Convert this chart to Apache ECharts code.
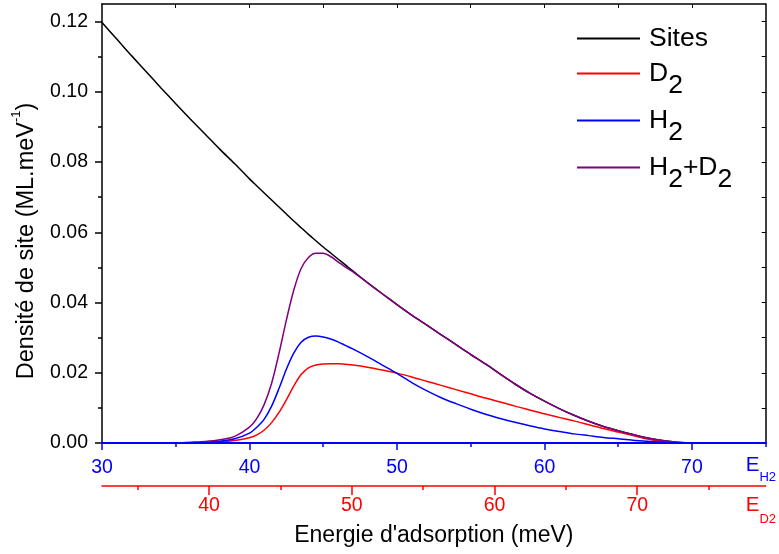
<!DOCTYPE html>
<html><head><meta charset="utf-8">
<script src="https://cdn.jsdelivr.net/npm/echarts@6/dist/echarts.min.js"></script>
<style>html,body{margin:0;padding:0;background:#fff}#c{width:779px;height:554px}</style>
</head><body><div id="c"></div>
<script>
// Energy (E_H2, meV)
const energy = [30,31,32,33,34,35,36,37,38,39,40,40.5,41,41.5,42,42.5,43,43.5,44,44.5,45,45.5,46,46.5,47,48,49,50,51,52,53,54,55,56,57,58,59,60,61,62,63,64,65,66,67,68,69,70,71,72,73,74,75];
const sites = [0.1197,0.1150,0.1103,0.1057,0.1011,0.0966,0.0922,0.0879,0.0836,0.0795,0.0752,
 0.0732,0.0712,0.0692,0.0672,0.0652,0.0632,0.0613,0.0594,0.0576,0.0558,0.0541,0.0524,0.0507,0.0490,
 0.0457,0.0425,0.0394,0.0364,0.0336,0.0308,0.0280,0.0252,0.0225,0.0196,0.0168,0.0142,0.0119,0.0098,0.0079,0.0062,0.0047,0.0035,0.0024,0.0014,0.0007,0.0002,0,0,0,0,0,0];
const d2 = [0,0,0,0,0,0,0,0.0001,0.0003,0.0007,0.0015,
 0.0023,0.0037,0.0058,0.0087,0.0123,0.0162,0.0195,0.0214,0.0222,0.0225,0.0226,0.0226,0.0224,0.0222,
 0.0216,0.0208,0.0199,0.0188,0.0176,0.0164,0.0152,0.0140,0.0128,0.0117,0.0105,0.0094,0.0083,0.0073,0.0063,0.0052,0.0041,0.0031,0.0021,0.0011,0.0004,0.0001,0,0,0,0,0,0];
const h2 = [0,0,0,0,0,0,0.0001,0.0002,0.0005,0.0012,0.0028,
 0.0045,0.0068,0.0105,0.0155,0.0210,0.0256,0.0287,0.0301,0.0305,0.0302,0.0296,0.0288,0.0278,0.0268,
 0.0246,0.0222,0.0198,0.0172,0.0149,0.0129,0.0112,0.0096,0.0082,0.0070,0.0059,0.0049,0.0040,0.0033,0.0026,0.0021,0.0016,0.0012,0.0008,0.0005,0.0002,0.0001,0,0,0,0,0,0];
const h2d2 = [0,0,0,0,0,0,0.0002,0.0004,0.0009,0.0019,0.0045,
 0.0070,0.0110,0.0170,0.0255,0.0350,0.0435,0.0497,0.0528,0.0540,0.0540,0.0531,0.0516,0.0501,0.0488,
 0.0456,0.0425,0.0394,0.0364,0.0336,0.0308,0.0280,0.0252,0.0225,0.0196,0.0168,0.0142,0.0119,0.0098,0.0079,0.0062,0.0047,0.0035,0.0024,0.0014,0.0007,0.0002,0,0,0,0,0,0];

const yMajor = [0,0.02,0.04,0.06,0.08,0.10,0.12];
const yMinor = [0.01,0.03,0.05,0.07,0.09,0.11];
const yRight = [0.01,0.02,0.03,0.04,0.05,0.06,0.07,0.08,0.09,0.10,0.11,0.12];
const hMajor = [30,40,50,60,70];
const hMinor = [35,45,55,65,75];
const topTicks = [35,40,45,50,55,60,65,70];
const dMajor = [40,50,60,70];
const dMinor = [35,45,55,65,75];

const FF = "'Liberation Sans', Arial, sans-serif";
const BLUE = '#0000ff', RED = '#ff0000', PURPLE = '#800080';

const chart = echarts.init(document.getElementById('c'), null, {renderer: 'canvas'});
const pairs = arr => energy.map((e, i) => [e, arr[i]]);
const legendNames = {'Sites': '{p|Sites}', 'D2': '{f|D}{s|2}', 'H2': '{f|H}{s|2}', 'H2+D2': '{f|H}{s|2}{m|+D}{s|2}'};
const LF = 26.5;

function lineSeries(name, arr, color) {
  return {type: 'line', name, data: pairs(arr), xAxisIndex: 0, yAxisIndex: 0, showSymbol: false, smooth: 0.3,
    color, itemStyle: {color}, lineStyle: {color, width: 1.5}, z: 2, silent: true};
}

chart.setOption({
  animation: false,
  backgroundColor: '#fff',
  textStyle: {fontFamily: FF},
  grid: {left: 102, right: 13, top: 4, bottom: 111, containLabel: false},
  legend: {
    orient: 'vertical', left: 577, top: 25, padding: 0, itemGap: -4, itemWidth: 63, itemHeight: 2,
    icon: 'rect', selectedMode: false,
    data: ['Sites', 'D2', 'H2', 'H2+D2'],
    formatter: n => legendNames[n],
    textStyle: {fontFamily: FF, color: '#000', fontSize: LF,
      rich: {
        p: {fontSize: LF, lineHeight: 27, padding: [0, 0, 0, 4], fontFamily: FF, color: '#000'},
        f: {fontSize: LF, lineHeight: 27, padding: [12, 0, 12, 4], fontFamily: FF, color: '#000'},
        m: {fontSize: LF, lineHeight: 27, padding: [12, 0, 12, 0], fontFamily: FF, color: '#000'},
        s: {fontSize: LF, lineHeight: 27, padding: [24, 0, 0, 0], fontFamily: FF, color: '#000'}
      }}
  },
  xAxis: [
    { // blue E_H2 axis
      type: 'value', gridIndex: 0, position: 'bottom', min: 30, max: 75, z: 5,
      axisLine: {show: true, onZero: false, lineStyle: {color: BLUE, width: 2}},
      axisTick: {show: true, inside: false, length: 7, customValues: hMajor, lineStyle: {color: BLUE, width: 1.5}},
      axisLabel: {show: true, customValues: hMajor, margin: 15, color: BLUE, fontSize: 19.5, fontFamily: FF},
      splitLine: {show: false},
      name: '{e|E}{s|H2}', nameLocation: 'end', nameGap: -20,
      nameTextStyle: {align: 'left', verticalAlign: 'top', padding: [4, 0, 0, 0], color: BLUE,
        rich: {e: {fontSize: 20.5, lineHeight: 20, padding: [8, 0, 0, 0], verticalAlign: 'top', color: BLUE, fontFamily: FF},
               s: {fontSize: 13, lineHeight: 13, padding: [24, 0, 0, 0], verticalAlign: 'top', color: BLUE, fontFamily: FF}}}
    },
    { // blue minor ticks
      type: 'value', gridIndex: 0, position: 'bottom', min: 30, max: 75, z: 5,
      axisLine: {show: false, onZero: false},
      axisTick: {show: true, inside: false, length: 4, customValues: hMinor, lineStyle: {color: BLUE, width: 1.5}},
      axisLabel: {show: false}, splitLine: {show: false}
    },
    { // top frame
      type: 'value', gridIndex: 0, position: 'top', min: 30, max: 75,
      axisLine: {show: true, onZero: false, lineStyle: {color: '#000', width: 1.5}},
      axisTick: {show: true, inside: true, length: 4, customValues: topTicks, lineStyle: {color: '#000', width: 1}},
      axisLabel: {show: false}, splitLine: {show: false}
    },
    { // red E_D2 axis
      type: 'value', gridIndex: 0, position: 'bottom', offset: 43, min: 32.5, max: 79,
      axisLine: {show: true, onZero: false, lineStyle: {color: RED, width: 1.5}},
      axisTick: {show: true, inside: false, length: 9, customValues: dMajor, lineStyle: {color: RED, width: 1.5}},
      axisLabel: {show: true, customValues: dMajor, margin: 10, color: RED, fontSize: 19.5, fontFamily: FF},
      splitLine: {show: false},
      name: '{e|E}{s|D2}', nameLocation: 'end', nameGap: -20,
      nameTextStyle: {align: 'left', verticalAlign: 'top', padding: [1, 0, 0, 0], color: RED,
        rich: {e: {fontSize: 20.5, lineHeight: 20, padding: [8, 0, 0, 0], verticalAlign: 'top', color: RED, fontFamily: FF},
               s: {fontSize: 13, lineHeight: 13, padding: [26, 0, 0, 0], verticalAlign: 'top', color: RED, fontFamily: FF}}}
    },
    { // red minor ticks + axis title
      type: 'value', gridIndex: 0, position: 'bottom', offset: 43, min: 32.5, max: 79,
      axisLine: {show: false, onZero: false},
      axisTick: {show: true, inside: false, length: 4, customValues: dMinor, lineStyle: {color: RED, width: 1.5}},
      axisLabel: {show: false}, splitLine: {show: false},
      name: "Energie d'adsorption (meV)", nameLocation: 'middle', nameGap: 38,
      nameTextStyle: {color: '#000', fontSize: 23, fontFamily: FF}
    }
  ],
  yAxis: [
    {
      type: 'value', gridIndex: 0, position: 'left', min: 0, max: 0.125,
      axisLine: {show: true, onZero: false, lineStyle: {color: '#000', width: 1.5}},
      axisTick: {show: true, inside: false, length: 7, customValues: yMajor, lineStyle: {color: '#000', width: 1.5}},
      axisLabel: {show: true, customValues: yMajor, margin: 14, color: '#000', fontSize: 19.5, fontFamily: FF,
        formatter: v => v.toFixed(2)},
      splitLine: {show: false},
      name: '{m|Densité de site (ML.meV}{u|-1}{m|)}', nameLocation: 'middle', nameRotate: 90, nameGap: 68,
      nameTextStyle: {color: '#000', padding: [0, 35, 0, 0],
        rich: {m: {fontSize: 23.5, lineHeight: 24, padding: [4.5, 0, 0, 0], verticalAlign: 'top', color: '#000', fontFamily: FF},
               u: {fontSize: 13, lineHeight: 13, verticalAlign: 'top', color: '#000', fontFamily: FF}}}
    },
    {
      type: 'value', gridIndex: 0, position: 'left', min: 0, max: 0.125,
      axisLine: {show: false, onZero: false},
      axisTick: {show: true, inside: false, length: 4, customValues: yMinor, lineStyle: {color: '#000', width: 1.5}},
      axisLabel: {show: false}, splitLine: {show: false}
    },
    {
      type: 'value', gridIndex: 0, position: 'right', min: 0, max: 0.125,
      axisLine: {show: true, onZero: false, lineStyle: {color: '#000', width: 1.5}},
      axisTick: {show: true, inside: true, length: 4, customValues: yRight, lineStyle: {color: '#000', width: 1}},
      axisLabel: {show: false}, splitLine: {show: false}
    }
  ],
  series: [
    lineSeries('Sites', sites, '#000000'),
    lineSeries('D2', d2, RED),
    lineSeries('H2', h2, BLUE),
    lineSeries('H2+D2', h2d2, PURPLE)
  ]
});
</script>
</body></html>
